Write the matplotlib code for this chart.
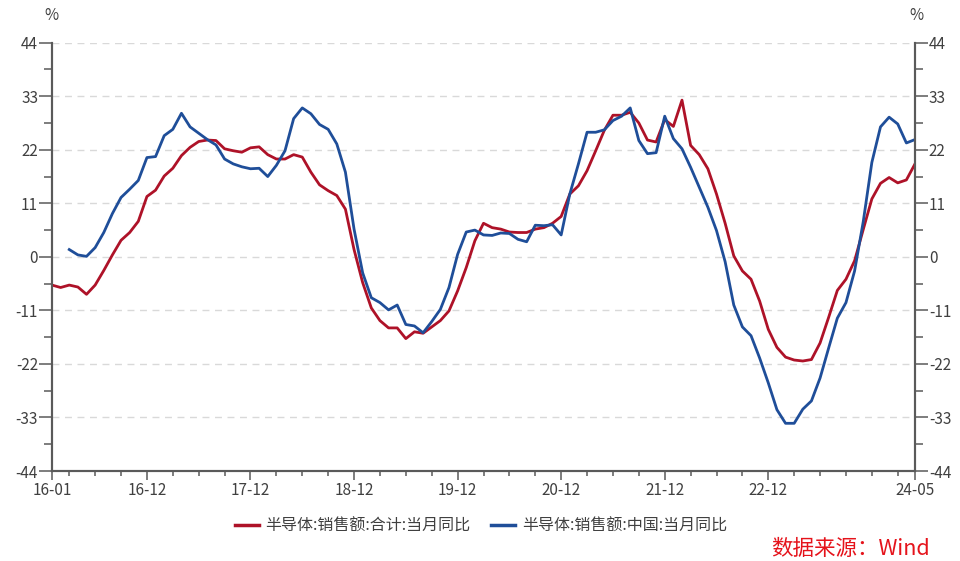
import numpy as np
import matplotlib
matplotlib.use('Agg')
import matplotlib.pyplot as plt
from matplotlib.lines import Line2D

plt.rcParams['font.family'] = ['Noto Sans CJK SC', 'DejaVu Sans']
plt.rcParams['axes.unicode_minus'] = False

# monthly data, 2016-01 .. 2024-05
total_yoy = [-5.8, -6.3, -5.8, -6.2, -7.7, -5.8, -2.8, 0.4, 3.4, 5.0,
             7.3, 12.4, 13.7, 16.6, 18.2, 20.8, 22.5, 23.7, 24.0, 23.9,
             22.2, 21.8, 21.5, 22.4, 22.6, 21.0, 20.1, 20.1, 21.0, 20.5,
             17.4, 14.8, 13.6, 12.6, 9.8, 1.5, -5.3, -10.5, -13.1, -14.6,
             -14.6, -16.8, -15.4, -15.7, -14.4, -13.1, -11.1, -7.0, -2.2, 3.3,
             6.9, 6.0, 5.7, 5.1, 5.0, 5.0, 5.7, 6.0, 6.9, 8.3,
             12.9, 14.6, 17.7, 21.8, 26.0, 29.1, 29.1, 29.7, 27.5, 24.0,
             23.6, 28.2, 26.8, 32.2, 22.9, 21.0, 18.1, 12.9, 6.9, 0.2,
             -2.9, -4.6, -9.1, -14.9, -18.6, -20.6, -21.2, -21.4, -21.1, -17.7,
             -12.4, -6.9, -4.6, -0.8, 5.6, 11.9, 15.1, 16.3, 15.2, 15.8,
             19.1]

china_yoy = [np.nan, np.nan, 1.5, 0.4, 0.1, 1.9, 5.0, 8.9, 12.2, 13.9,
             15.7, 20.4, 20.6, 24.9, 26.2, 29.5, 26.7, 25.4, 24.1, 23.0,
             20.1, 19.1, 18.5, 18.1, 18.2, 16.5, 18.8, 21.8, 28.4, 30.6,
             29.4, 27.2, 26.2, 23.2, 17.4, 5.7, -3.3, -8.4, -9.4, -10.9,
             -9.9, -13.9, -14.2, -15.6, -13.3, -10.8, -6.3, 0.5, 5.1, 5.5,
             4.5, 4.4, 4.9, 4.8, 3.6, 3.1, 6.5, 6.4, 6.6, 4.5,
             12.9, 19.1, 25.6, 25.6, 26.1, 28.0, 28.9, 30.6, 23.9, 21.2,
             21.4, 28.9, 24.3, 22.2, 18.4, 14.3, 10.2, 5.4, -1.0, -9.9,
             -14.4, -16.2, -20.8, -25.9, -31.4, -34.2, -34.2, -31.3, -29.6, -24.9,
             -18.7, -12.6, -9.4, -2.9, 7.2, 19.4, 26.7, 28.7, 27.3, 23.4,
             24.1]

xtick_pos = [0, 11, 23, 35, 47, 59, 71, 83, 100]
xtick_labels = ['16-01', '16-12', '17-12', '18-12', '19-12', '20-12', '21-12', '22-12', '24-05']
yticks = [-44, -33, -22, -11, 0, 11, 22, 33, 44]
names = ['半导体:销售额:合计:当月同比', '半导体:销售额:中国:当月同比']

red = '#AE1228'
blue = '#1F4E99'
axis_c = '#5a5a5a'
text_c = '#404040'

x = np.arange(len(total_yoy))

fig = plt.figure(figsize=(9.6, 5.61), dpi=100)
ax = fig.add_axes([52/960, 1-471/561, (915-52)/960, (471-42.7)/561])

for v in yticks[1:]:
    ax.axhline(v, color='#d9d9d9', lw=1, ls=(0, (5, 4)), zorder=0)

ax.plot(x, total_yoy, color=red, lw=2, zorder=3)
ax.plot(x, china_yoy, color=blue, lw=2, zorder=4)

ax.set_xlim(0, 100)
ax.set_ylim(-44, 44)
ax.set_xticks(xtick_pos)
ax.set_xticklabels(xtick_labels)
ax.set_xticks(np.arange(2, 100, 3), minor=True)
ax.set_yticks(yticks)
ax.set_yticks(np.arange(-44, 44.1, 5.5), minor=True)

ax2 = ax.twinx()
ax2.set_ylim(-44, 44)
ax2.set_yticks(yticks)
ax2.set_yticks(np.arange(-44, 44.1, 5.5), minor=True)

for a in (ax, ax2):
    a.spines['top'].set_visible(False)
    for s in ('left', 'right', 'bottom'):
        a.spines[s].set_color(axis_c)
        a.spines[s].set_linewidth(1.5)
    a.tick_params(axis='y', which='major', length=9.5, width=1.1, color=axis_c,
                  labelsize=11, labelcolor=text_c, pad=0.5)
    a.tick_params(axis='y', which='minor', length=6, width=1.1, color=axis_c)

ax.tick_params(axis='x', which='major', length=6.5, width=1.1, color=axis_c,
               labelsize=11, labelcolor=text_c, pad=1.5)
ax.tick_params(axis='x', which='minor', length=3.8, width=1.1, color=axis_c)

fig.text(51/960, 1-15/561, '%', ha='center', va='center', fontsize=11, color=text_c)
fig.text(916/960, 1-15/561, '%', ha='center', va='center', fontsize=11, color=text_c)

handles = [Line2D([], [], color=red, lw=2.5), Line2D([], [], color=blue, lw=2.5)]
fig.legend(handles, names, loc='center', bbox_to_anchor=(481/960, 1-526/561), ncol=2,
           frameon=False, fontsize=11.5, handlelength=1.5, handletextpad=0.4,
           columnspacing=1.3, labelcolor=text_c)

fig.text(930/960, 1-549/561, '数据来源：Wind', ha='right', va='center', fontsize=15.5, color='#E5131B')

fig.savefig('out.png', dpi=100)
